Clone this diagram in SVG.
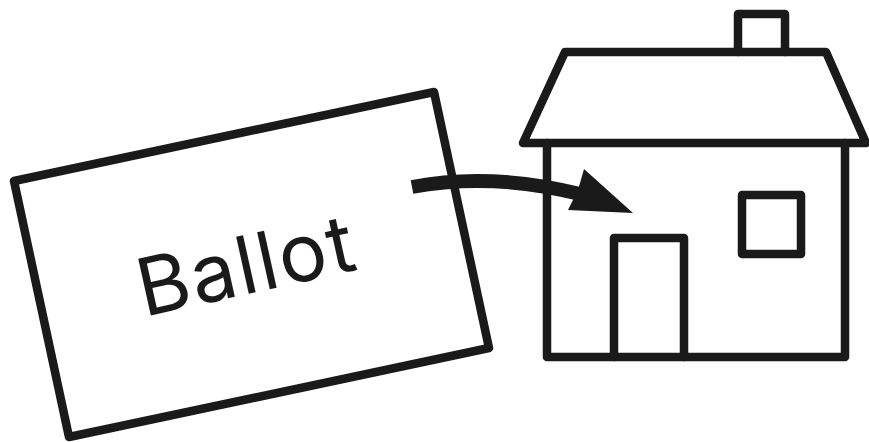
<svg xmlns="http://www.w3.org/2000/svg" width="869" height="442" viewBox="0 0 869 442">
<style>.s{fill:none;stroke:#1a1a1a;stroke-width:8.5;stroke-linejoin:round;stroke-linecap:round}</style>
<rect width="869" height="442" fill="#fff"/>
<g id="ballot"><polygon class="s" points="14,181 434,92 489,348 69,437"/>
<text x="0" y="0" transform="translate(144,317) rotate(-12.5)" font-family="Inter, Liberation Sans, sans-serif" font-size="80" letter-spacing="2" fill="#1a1a1a">Ballot</text></g>
<g id="house"><path class="s" d="M738,52V14H785V52"/><polygon class="s" points="565,52 826,52 866,143 523,143"/><path class="s" d="M547,143V357H845V143"/><rect class="s" x="742" y="195" width="59" height="59"/><path class="s" d="M614,357V238H684V357"/></g>
<g id="connectors"><path d="M412,187Q490,172 580,194" fill="none" stroke="#1a1a1a" stroke-width="14"/><polygon points="584,169 633,213 568,210 578,190" fill="#1a1a1a"/></g>
</svg>
